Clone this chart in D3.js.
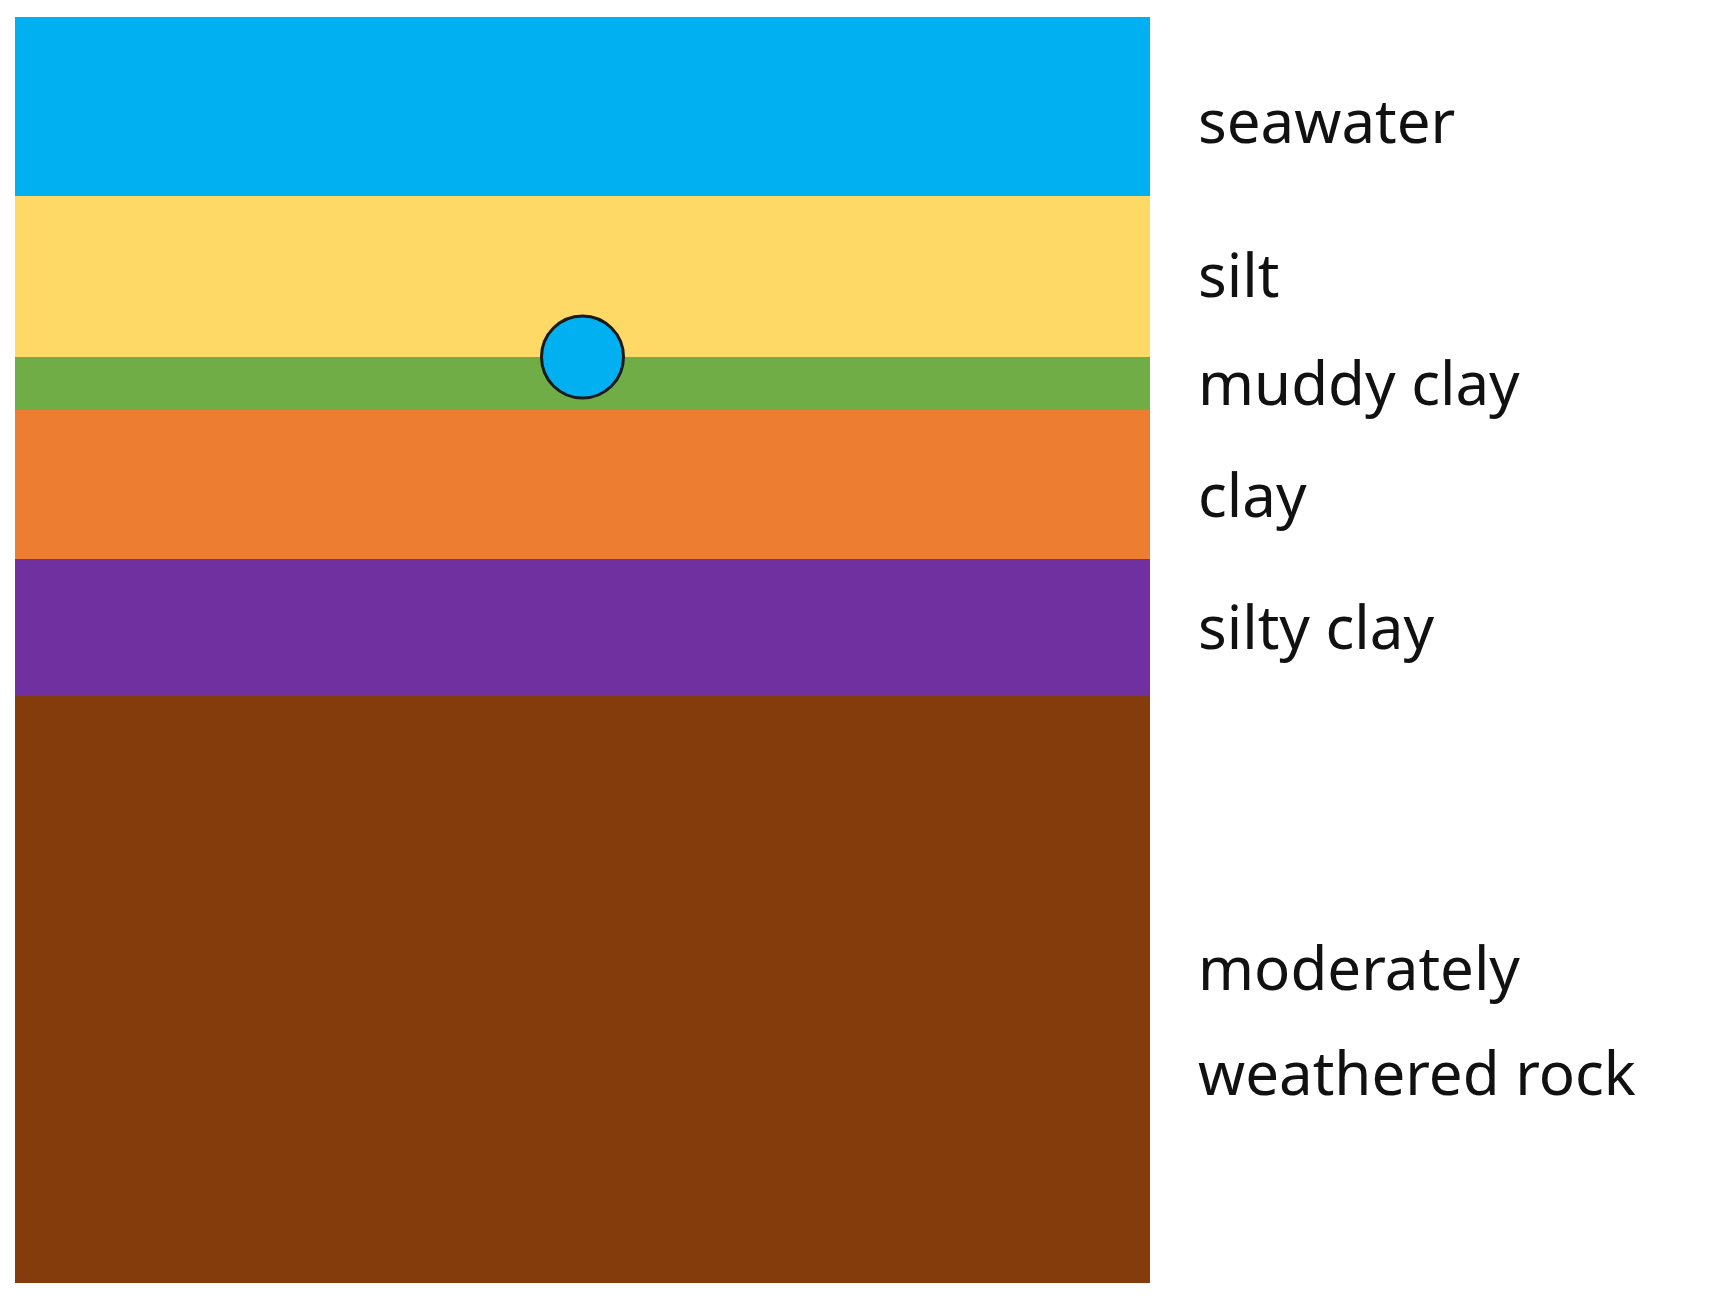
<!DOCTYPE html>
<html>
<head>
<meta charset="utf-8">
<script src="https://cdn.jsdelivr.net/npm/d3@7"></script>
<style>
  body { margin: 0; background: #fff; }
  text { font-family: "Noto Sans", sans-serif; fill: #111; }
</style>
</head>
<body>
<svg id="chart" width="1726" height="1298"></svg>
<script>
// soil layers, top to bottom, with depth of the lower boundary
var layers = ["seawater", "silt", "muddy clay", "clay", "silty clay", "moderately weathered rock"];
var bottoms = [179, 340, 393, 542, 679, 1266];
var colors = ["#00b0f0", "#ffd966", "#70ad47", "#ed7d31", "#7030a0", "#843c0c"];
// label lines and their depths
var labelLines = [["seawater"], ["silt"], ["muddy clay"], ["clay"], ["silty clay"], ["moderately", "weathered rock"]];
var labelDepths = [[126], [280], [388], [500], [632], [973, 1078]];
// the sensor point sits on the silt / muddy clay boundary
var pointDepth = 340, pointPos = 0.5;

var svg = d3.select("#chart");
var y = d3.scaleLinear().domain([0, 1266]).range([17, 1283]);
var x = d3.scaleLinear().domain([0, 1]).range([15, 1150]);

var tops = [0].concat(bottoms.slice(0, -1));

svg.selectAll("rect.layer")
    .data(layers)
    .enter().append("rect")
    .attr("class", "layer")
    .attr("x", x(0))
    .attr("width", x(1) - x(0))
    .attr("y", function(d, i) { return y(tops[i]); })
    .attr("height", function(d, i) { return y(bottoms[i]) - y(tops[i]); })
    .attr("fill", function(d, i) { return colors[i]; });

svg.append("circle")
    .attr("cx", x(pointPos))
    .attr("cy", y(pointDepth))
    .attr("r", 41)
    .attr("fill", "#00b0f0")
    .attr("stroke", "#1a1a1a")
    .attr("stroke-width", 3);

labelLines.forEach(function(lines, i) {
    lines.forEach(function(t, j) {
        svg.append("text")
            .attr("x", 1198)
            .attr("y", y(labelDepths[i][j]))
            .attr("font-size", 60)
            .text(t);
    });
});
</script>
</body>
</html>
